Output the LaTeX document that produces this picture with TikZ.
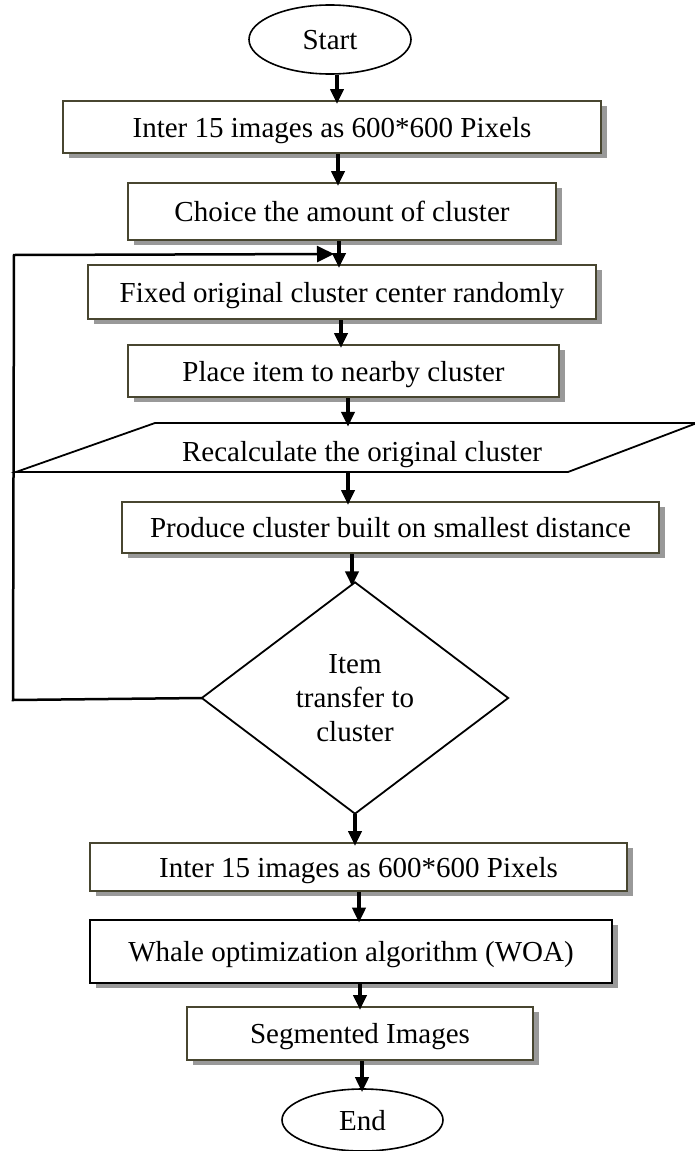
\documentclass[tikz,border=0pt]{standalone}
\usepackage{fontspec}
\setmainfont{Liberation Serif}
\usetikzlibrary{arrows.meta,shadows,shapes.geometric}
\definecolor{boxedge}{RGB}{72,70,48}
\definecolor{shade}{RGB}{153,153,153}
\begin{document}
\begin{tikzpicture}[x=1pt,y=-1pt,
 every node/.style={font=\fontsize{29}{34}\selectfont, inner sep=0pt},
 oneline/.style={text height=21pt, text depth=1pt},
 procbox/.style={oneline, draw=boxedge, line width=2pt, fill=white,
   drop shadow={shadow xshift=6pt, shadow yshift=-5pt, fill=shade, opacity=1}},
 term/.style={oneline, ellipse, draw=black, line width=1.6pt, fill=white},
 outline/.style={draw=black, line width=1.8pt, line join=miter},
 flow/.style={line width=4pt, -{Triangle[length=15pt,width=13pt]}, shorten >=-4pt},
 loopline/.style={line width=2.5pt, line join=miter, -{Triangle[length=17pt,width=16pt]}}
]
\useasboundingbox (0,0) rectangle (695,1151);

% nodes
\node[term, minimum width=162pt, minimum height=69pt] (start) at (330,39.5) {Start};
\node[procbox, minimum width=538pt, minimum height=52pt] (inter1) at (332,127) {Inter 15 images as 600*600 Pixels};
\node[procbox, minimum width=428pt, minimum height=57pt] (choice) at (342,211.5) {Choice the amount of cluster};
\node[procbox, minimum width=508pt, minimum height=54pt] (fixed) at (342,292) {Fixed original cluster center randomly};
\node[procbox, minimum width=431pt, minimum height=52pt] (place) at (343.5,371) {Place item to nearby cluster};
\node[text height=28pt, text depth=1pt, minimum width=400pt, minimum height=49pt] (recalc) at (362,447.5) {Recalculate the original cluster};
\draw[outline] (155,423) -- (697,423) -- (568,472) -- (16,472) -- cycle;
\node[procbox, minimum width=537pt, minimum height=51pt] (produce) at (390.5,527.5) {Produce cluster built on smallest distance};
\node[align=center, minimum width=306pt, minimum height=231pt] (dec) at (355,698) {Item\\transfer to\\cluster};
\draw[outline] (dec.north) -- (dec.east) -- (dec.south) -- (dec.west) -- cycle;
\node[procbox, minimum width=537pt, minimum height=48pt] (inter2) at (358.5,867) {Inter 15 images as 600*600 Pixels};
\node[procbox, draw=black, line width=2.6pt, minimum width=522pt, minimum height=63pt] (whale) at (351,951.5) {Whale optimization algorithm (WOA)};
\node[procbox, minimum width=346pt, minimum height=53pt] (seg) at (360,1033.5) {Segmented Images};
\node[term, minimum width=161pt, minimum height=62pt] (end) at (362.5,1120) {End};

% connector x positions
\coordinate (c1) at (337,0);
\coordinate (c2) at (338,0);
\coordinate (c3) at (339,0);
\coordinate (c4) at (341,0);
\coordinate (c5) at (348,0);
\coordinate (c6) at (348,0);
\coordinate (c7) at (352,0);
\coordinate (c8) at (355,0);
\coordinate (c9) at (359,0);
\coordinate (c10) at (360,0);
\coordinate (c11) at (362,0);

% feedback loop
\coordinate (fb1) at (13,700);
\coordinate (fb2) at (14,255);
\coordinate (fbtip) at (334,254);
\draw[loopline] (dec.west) -- (fb1) -- (fb2) -- (fbtip);

% arrows
\draw[flow] (start.south -| c1) -- (inter1.north -| c1);
\draw[flow] (inter1.south -| c2) -- (choice.north -| c2);
\draw[flow] (choice.south -| c3) -- (fixed.north -| c3);
\draw[flow] (fixed.south -| c4) -- (place.north -| c4);
\draw[flow] (place.south -| c5) -- (recalc.north -| c5);
\draw[flow] (recalc.south -| c6) -- (produce.north -| c6);
\draw[flow] (produce.south -| c7) -- (dec.north -| c7);
\draw[flow] (dec.south -| c8) -- (inter2.north -| c8);
\draw[flow] (inter2.south -| c9) -- (whale.north -| c9);
\draw[flow] (whale.south -| c10) -- (seg.north -| c10);
\draw[flow] (seg.south -| c11) -- (end.north -| c11);
\end{tikzpicture}
\end{document}
